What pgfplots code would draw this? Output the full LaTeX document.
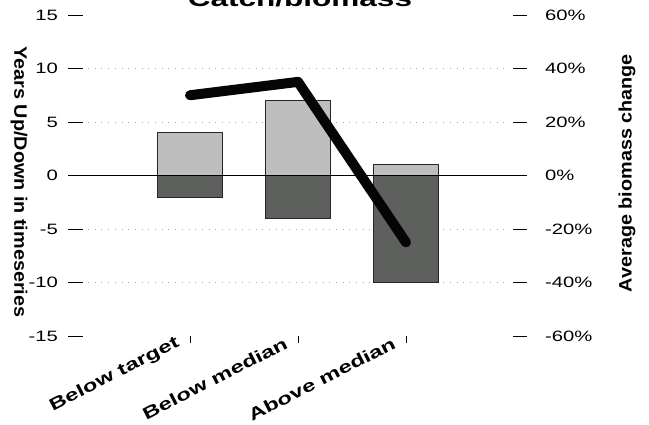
\documentclass[border=0pt]{standalone}
\usepackage{fontspec}
\setmainfont{Liberation Sans}
\newfontfamily\tickfont{Liberation Sans}[FakeStretch=1.35]
\newfontfamily\labfont{Liberation Sans}[FakeStretch=1.4]
\newfontfamily\ylabfont{Liberation Sans}[FakeStretch=1.1]
\usepackage{pgfplots}
\pgfplotsset{compat=1.18}
\definecolor{lightbar}{HTML}{BEBEBE}
\definecolor{darkbar}{HTML}{5E605E}
\definecolor{gridc}{HTML}{A8A8A8}
\definecolor{linec}{HTML}{050505}
\pgfplotsset{
  base/.style={width=459bp, height=321bp, scale only axis,
    xmin=-0.1296, xmax=4.1204, ymin=-15, ymax=15,
    axis line style={draw=none}, clip=false,
    at={(68bp,-336bp)}, anchor=south west}
}
\begin{document}
\begin{tikzpicture}
% left axis: grid, bars, zero line
\begin{axis}[base,
  xtick=\empty,
  ytick={-15,-10,-5,0,5,10,15},
  yticklabels={-15,-10,-5,0,5,10,15},
  ytick pos=left, yticklabel pos=left,
  tick align=inside, major tick length=15bp,
  ytick style={black, line width=0.9bp},
  yticklabel style={font=\tickfont\fontsize{15bp}{18bp}\selectfont, anchor=east, inner sep=0pt, xshift=-10bp}]
  \addplot[gridc, dash pattern=on 1bp off 5.7bp, line width=0.8bp] coordinates {(0.0556,10) (3.963,10)};
  \addplot[gridc, dash pattern=on 1bp off 5.7bp, line width=0.8bp] coordinates {(0.0556,5) (3.963,5)};
  \addplot[gridc, dash pattern=on 1bp off 5.7bp, line width=0.8bp] coordinates {(0.0556,-5) (3.963,-5)};
  \addplot[gridc, dash pattern=on 1bp off 5.7bp, line width=0.8bp] coordinates {(0.0556,-10) (3.963,-10)};
  \addplot[ybar, bar width=65bp, bar shift=0pt, fill=lightbar, draw=black!85, line width=0.8bp] coordinates {(1,4) (2,7) (3,1)};
  \addplot[ybar, bar width=65bp, bar shift=0pt, fill=darkbar, draw=black!85, line width=0.8bp] coordinates {(1,-2) (2,-4) (3,-10)};
  \addplot[black, line width=0.9bp] coordinates {(-0.1296,0) (4.1204,0)};
  \node[rotate=-90, font=\ylabfont\bfseries\fontsize{18bp}{20bp}\selectfont] at (rel axis cs:-0.1068,0.48) {Years Up/Down in timeseries};
\end{axis}
% right axis: biomass change line
\begin{axis}[base, ymin=-60, ymax=60,
  xtick=\empty,
  ytick={-60,-40,-20,0,20,40,60},
  yticklabels={-60\%,-40\%,-20\%,0\%,20\%,40\%,60\%},
  ytick pos=right, yticklabel pos=right,
  tick align=inside, major tick length=14bp,
  ytick style={black, line width=0.9bp},
  yticklabel style={font=\tickfont\fontsize{15bp}{18bp}\selectfont, anchor=west, inner sep=0pt, xshift=18bp}]
  \addplot[linec, line width=10bp, line cap=round, line join=round] coordinates {(1,30) (2,35) (3,-25)};
  \node[rotate=90, font=\ylabfont\bfseries\fontsize{18bp}{20bp}\selectfont] at (rel axis cs:1.218,0.5078) {Average biomass change};
\end{axis}
% x axis: category ticks
\begin{axis}[base,
  ytick=\empty,
  xtick={1,2,3},
  xticklabels={Below target, Below median, Above median},
  xtick pos=bottom, xticklabel pos=bottom,
  tick align=outside, major tick length=7bp,
  xtick style={black, line width=0.9bp},
  xticklabel style={font=\labfont\bfseries\fontsize{17bp}{20bp}\selectfont, rotate=27, anchor=east, inner sep=0pt, xshift=-10bp, yshift=6bp}]
\end{axis}
\node[font=\labfont\bfseries\fontsize{22.5bp}{26bp}\selectfont, anchor=base] at (300bp,-6bp) {Catch/biomass};
\pgfresetboundingbox
\path[use as bounding box] (0,0) rectangle (649bp,-425bp);
\end{tikzpicture}
\end{document}
